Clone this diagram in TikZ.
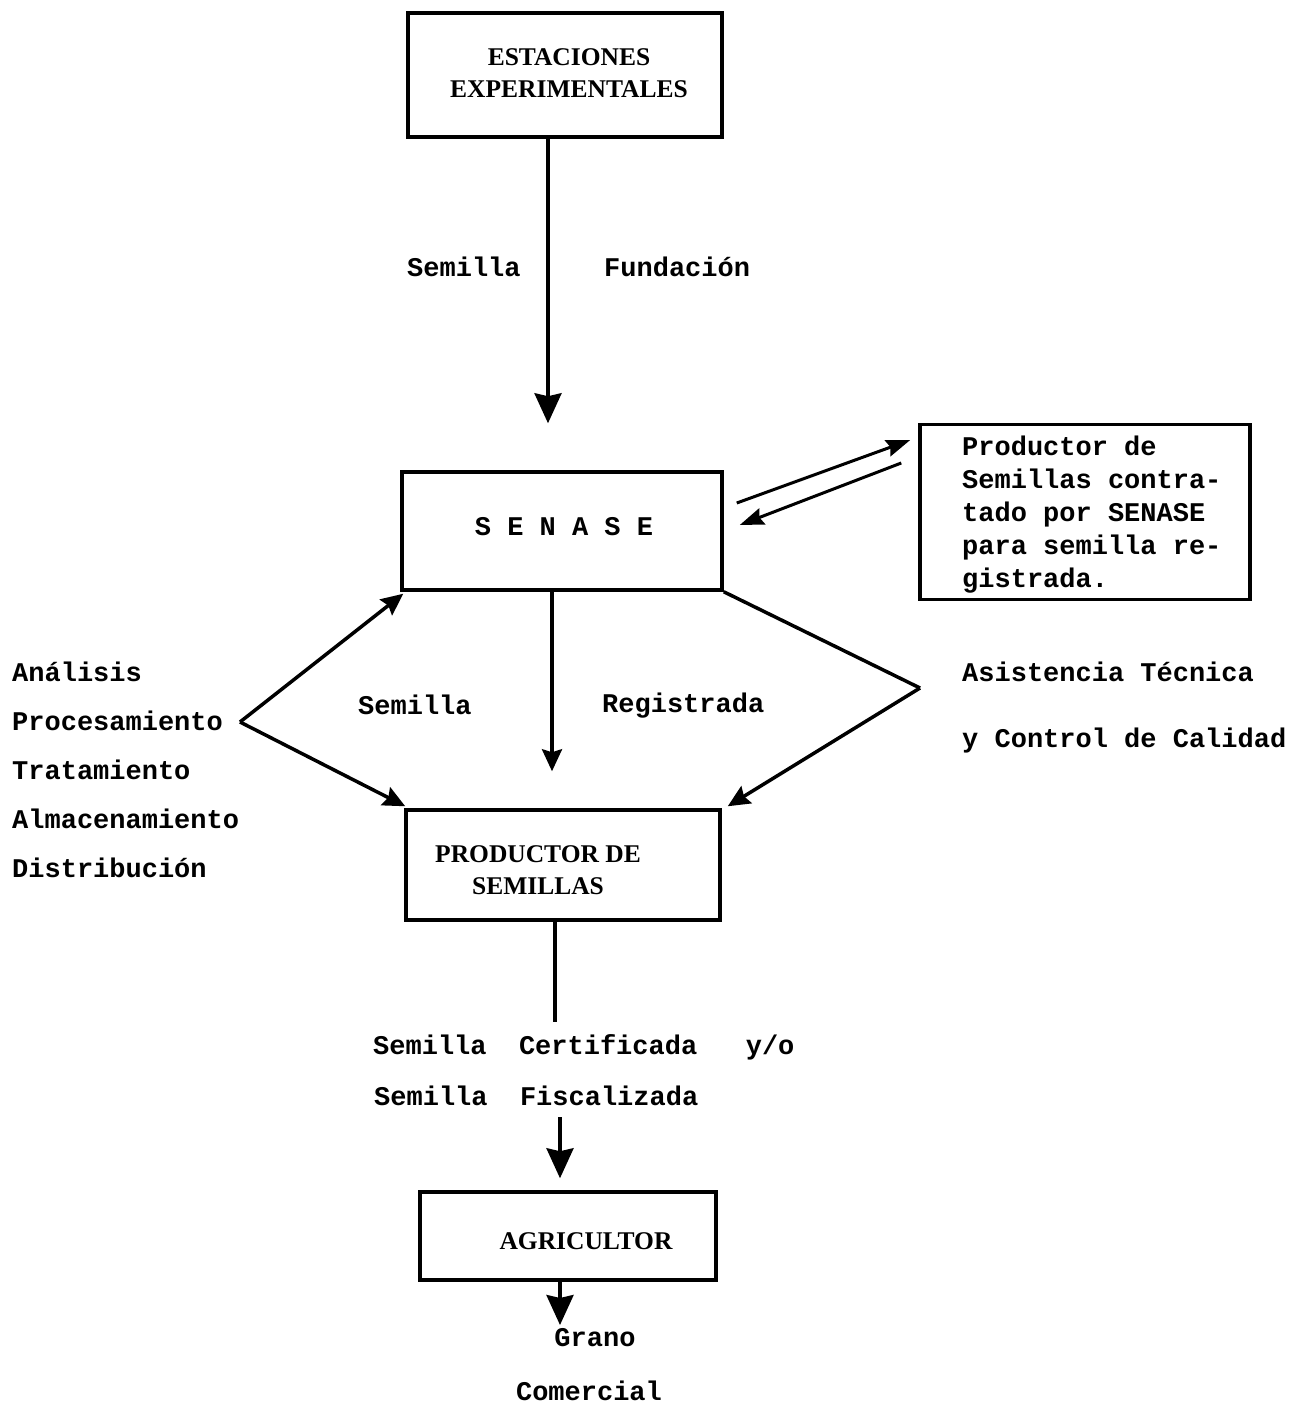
\documentclass[tikz,border=0pt]{standalone}
\usepackage{fontspec}
\setmainfont{Liberation Serif}
\setmonofont{Liberation Mono}
\usepackage{tikz}
\usetikzlibrary{arrows.meta}
\tikzset{
    box/.style={draw, rectangle, line width=3.5pt, inner sep=0pt},
    ttl/.style={font=\bfseries\fontsize{25.5}{32}\selectfont, align=center, inner sep=0pt},
    lbl/.style={font=\ttfamily\bfseries\fontsize{27}{33}\selectfont, inner sep=0pt},
    link/.style={line width=3.5pt},
    flow/.style={line width=3.5pt, -{Stealth[length=30pt, width=27pt, inset=3pt]}},
    flowsm/.style={line width=3.5pt, -{Stealth[length=22pt, width=20pt, inset=3pt]}},
    flowtw/.style={line width=3pt, -{Stealth[length=24pt, width=17pt, inset=3pt]}}
}

\begin{document}
\begin{tikzpicture}[x=1pt, y=-1pt]
  \useasboundingbox (0,0) rectangle (1289,1406);

  % boxes
  \node (estac) [box, minimum width=314pt, minimum height=124pt] at (565,75) {};
  \node (estac_t) [ttl] at (569,73) {ESTACIONES\\EXPERIMENTALES};
  \node (senase) [box, minimum width=320pt, minimum height=118pt] at (562,531) {};
  \node (senase_t) [lbl] at (564,527) {S E N A S E};
  \node (contrat) [box, minimum width=330pt, minimum height=175pt] at (1085,512) {};
  \node (contrat_t) [lbl, align=left, anchor=north west] at (962,436)
    {Productor de\\Semillas contra-\\tado por SENASE\\para semilla re-\\gistrada.};
  \node (prodsem) [box, minimum width=314pt, minimum height=110pt] at (563,865) {};
  \node (prodsem_t) [ttl] at (538,870) {PRODUCTOR DE\\SEMILLAS};
  \node (agric) [box, minimum width=296pt, minimum height=88pt] at (568,1236) {};
  \node (agric_t) [ttl] at (586,1241) {AGRICULTOR};

  % labels
  \node (fund_a) [lbl, anchor=west] at (407,267) {Semilla};
  \node (fund_b) [lbl, anchor=west] at (604,267) {Fundación};
  \node (reg_a) [lbl, anchor=west] at (358,705) {Semilla};
  \node (reg_b) [lbl, anchor=west] at (602,706) {Registrada};
  \node (proceso) [lbl, align=left, anchor=west, font=\ttfamily\bfseries\fontsize{27}{49}\selectfont]
    at (12,770) {Análisis\\Procesamiento\\Tratamiento\\Almacenamiento\\Distribución};
  \node (asist) [lbl, align=left, anchor=west, font=\ttfamily\bfseries\fontsize{27}{66}\selectfont]
    at (962,708) {Asistencia Técnica\\y Control de Calidad};
  \node (cert_a) [lbl, anchor=west] at (373,1047) {Semilla~~Certificada~~~y/o};
  \node (cert_b) [lbl, anchor=west] at (374,1096) {Semilla~~Fiscalizada};
  \node (grano) [lbl] at (595,1338) {Grano};
  \node (comerc) [lbl] at (589,1391) {Comercial};

  \coordinate (lhex) at (240,722);
  \coordinate (rhex) at (920,688);
  \coordinate (cert_top) at (555,1022);
  \coordinate (fisc_bot) at (560,1117);
  \coordinate (grano_top) at (560,1325);

  \draw[flow] ([xshift=-17pt]estac.south) -- ([xshift=-14pt,yshift=47pt]senase.north);
  \draw[flowtw] ([xshift=13pt,yshift=28pt]senase.east) -- ([xshift=-8pt,yshift=72pt]contrat.west);
  \draw[flowtw] ([xshift=-17pt,yshift=49pt]contrat.west) -- ([xshift=16pt,yshift=6pt]senase.east);
  \draw[flowsm] ([xshift=-10pt]senase.south) -- ([xshift=-11pt,yshift=37pt]prodsem.north);
  \draw[flowsm] (lhex) -- ([xshift=3pt,yshift=-2pt]senase.south west);
  \draw[flowsm] (lhex) -- ([xshift=1pt,yshift=2pt]prodsem.north west);
  \draw[link] (senase.south east) -- (rhex);
  \draw[flowsm] (rhex) -- ([xshift=6pt,yshift=2pt]prodsem.north east);
  \draw[link] ([xshift=-8pt]prodsem.south) -- (cert_top);
  \draw[flow] (fisc_bot) -- ([xshift=-8pt,yshift=12pt]agric.north);
  \draw[flow] ([xshift=-8pt]agric.south) -- (grano_top);
\end{tikzpicture}
\end{document}
